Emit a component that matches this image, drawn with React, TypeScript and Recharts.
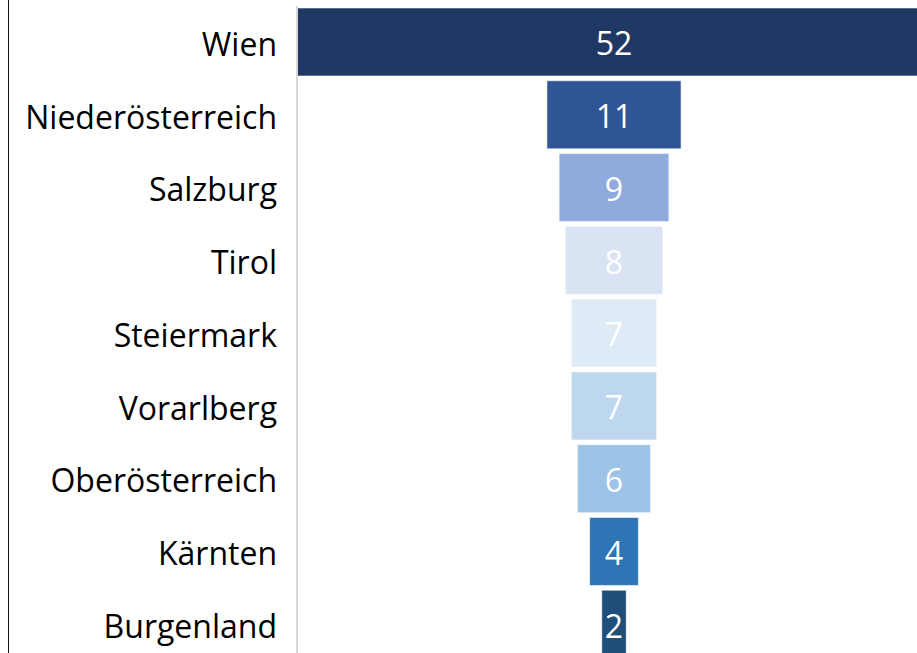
import { BarChart, Bar, XAxis, YAxis, Cell, LabelList } from "recharts";

// Bundesländer, sorted as in the funnel
const regions = [
  "Wien",
  "Niederösterreich",
  "Salzburg",
  "Tirol",
  "Steiermark",
  "Vorarlberg",
  "Oberösterreich",
  "Kärnten",
  "Burgenland",
];
const counts = [52, 11, 9, 8, 7, 7, 6, 4, 2];
const colors = [
  "#203864",
  "#2F5597",
  "#8FAADC",
  "#DAE3F3",
  "#DEEBF7",
  "#BDD7EE",
  "#9DC3E6",
  "#2E75B6",
  "#1F4E79",
];

const maxCount = Math.max(...counts);

// invisible pad bar centres each value bar -> funnel
const data = regions.map((name, i) => ({
  name,
  pad: (maxCount - counts[i]) / 2,
  count: counts[i],
}));

const FONT = "'Open Sans', sans-serif";

export default function App() {
  return (
    <div
      style={{
        position: "absolute",
        left: 0,
        top: 0,
        width: 917,
        height: 653,
        overflow: "hidden",
        background: "#fff",
      }}
    >
      <div
        style={{
          position: "absolute",
          left: 8,
          top: 0,
          width: 1,
          height: 653,
          background: "#111",
        }}
      />
      <BarChart
        width={931}
        height={661}
        data={data}
        layout="vertical"
        margin={{ top: 6, right: 0, bottom: 0, left: 0 }}
        barSize={68}
        style={{ fontFamily: FONT }}
      >
        <XAxis type="number" hide domain={[0, maxCount]} />
        <YAxis
          type="category"
          dataKey="name"
          width={297}
          tickSize={0}
          tickMargin={20}
          tickLine={false}
          axisLine={{ stroke: "#d9d9d9", strokeWidth: 2 }}
          tick={{ fill: "#000", fontSize: 32, fontFamily: FONT, dy: 2 }}
          interval={0}
        />
        <Bar dataKey="pad" stackId="f" fill="transparent" isAnimationActive={false} />
        <Bar
          dataKey="count"
          stackId="f"
          stroke="#fff"
          strokeOpacity={0.55}
          strokeWidth={1}
          isAnimationActive={false}
        >
          {data.map((d, i) => (
            <Cell key={d.name} fill={colors[i]} />
          ))}
          <LabelList
            dataKey="count"
            position="center"
            fill="#fff"
            dy={2}
            style={{ fontSize: 32, fontFamily: FONT }}
          />
        </Bar>
      </BarChart>
    </div>
  );
}
